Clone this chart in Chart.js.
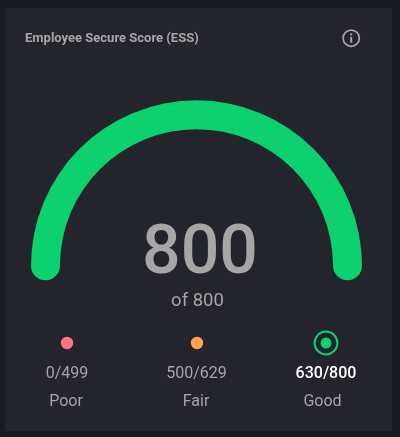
<!DOCTYPE html>
<html>
<head>
<meta charset="utf-8">
<script src="https://cdn.jsdelivr.net/npm/chart.js@4"></script>
<style>
    html, body { margin: 0; padding: 0; width: 400px; height: 437px; overflow: hidden; background: #1a1b20; font-family: Roboto, sans-serif; }
    #card { position: absolute; left: 5px; top: 8px; width: 387px; height: 423px; background: #23242c; }
    #gauge { position: absolute; left: 0; top: 0; }
    .txt { position: absolute; white-space: nowrap; transform: translate(-50%, -50%); color: #a6a6a6; line-height: 1; }
    #title { position: absolute; left: 25px; top: 30px; font-size: 13px; font-weight: 700; color: #a6a6a6; line-height: 15px; white-space: nowrap; }
    #info { position: absolute; left: 341px; top: 28px; }
    .dot { position: absolute; }
</style>
</head>
<body>
<div id="card"></div>
<canvas id="gauge" width="400" height="437"></canvas>
<div id="title"></div>
<svg id="info" width="20" height="20" viewBox="0 0 20 20">
    <circle cx="10.2" cy="10.2" r="8.1" fill="none" stroke="#a6a6a6" stroke-width="1.7"/>
    <rect x="9.2" y="8.8" width="2" height="6" fill="#a6a6a6"/>
    <rect x="9.2" y="5.4" width="2" height="2" fill="#a6a6a6"/>
</svg>
<div id="legend"></div>
<script>
const titleText = "Employee Secure Score (ESS)"
const score = [800]
const maxScore = 800
const bandRanges = ["0/499", "500/629", "630/800"]
const bandNames = ["Poor", "Fair", "Good"]
const bandColors = ["#ff7480", "#ffa252", "#0cd16e"]
const activeBand = 2

document.getElementById("title").textContent = titleText

function addText(text, x, y, size, color, weight){
    const el = document.createElement("div")
    el.className = "txt"
    el.textContent = text
    el.style.left = x + "px"
    el.style.top = y + "px"
    el.style.fontSize = size + "px"
    el.style.color = color
    el.style.fontWeight = weight
    document.body.appendChild(el)
}

addText(score[0], 200, 250, 68, "#a6a6a6", 500)
addText("of " + maxScore, 197.5, 300, 18.5, "#a6a6a6", 400)

const bandX = [67, 196.5, 326]
const nameX = [66, 196, 322.5]
const legend = document.getElementById("legend")
for (var i = 0; i < bandNames.length; i++) {
    const svg = document.createElementNS("http://www.w3.org/2000/svg", "svg")
    svg.setAttribute("class", "dot")
    svg.setAttribute("width", "30")
    svg.setAttribute("height", "30")
    svg.style.left = (bandX[i] - 15) + "px"
    svg.style.top = "327.5px"
    var marks = '<circle cx="15" cy="15" r="' + (i == activeBand ? 5.5 : 6.2) + '" fill="' + bandColors[i] + '"/>'
    if(i == activeBand){
        marks += '<circle cx="15" cy="15" r="11.4" fill="none" stroke-width="2" stroke="' + bandColors[i] + '"/>'
    }
    svg.innerHTML = marks
    legend.appendChild(svg)
    addText(bandRanges[i], bandX[i], 373, 16, i == activeBand ? "#ffffff" : "#a6a6a6", i == activeBand ? 500 : 400)
    addText(bandNames[i], nameX[i], 401, 16, "#a6a6a6", 400)
}

// the arc runs a little past 180 degrees so the round caps hang below the centre
new Chart(document.getElementById("gauge"), {
    type: 'doughnut',
    data: {
        labels: ["Score", "Rest"],
        datasets: [{
            data: [score[0], maxScore - score[0]],
            backgroundColor: [bandColors[activeBand], "transparent"],
            borderWidth: 0,
            borderRadius: 14.5
        }]
    },
    options: {
        responsive: false,
        devicePixelRatio: 1,
        animation: false,
        rotation: -95.5,
        circumference: 191,
        cutout: "82.5%",
        layout: { padding: { left: 31, right: 38, top: 100, bottom: 155 } },
        plugins: { legend: { display: false }, tooltip: { enabled: false } }
    }
})
</script>
</body>
</html>
